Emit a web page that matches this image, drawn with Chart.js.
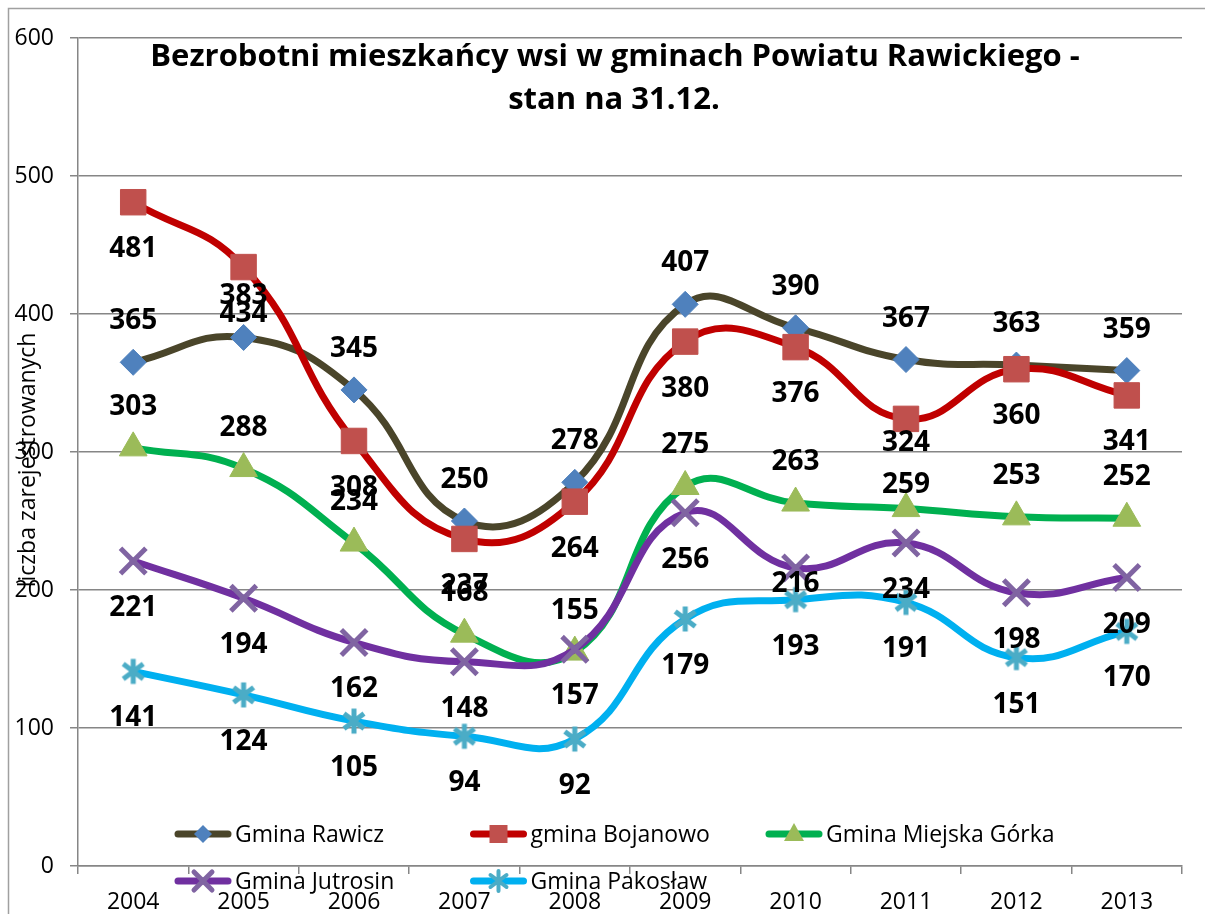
<!DOCTYPE html>
<html>
<head>
<meta charset="utf-8">
<script src="https://cdn.jsdelivr.net/npm/chart.js@4.4.1/dist/chart.umd.min.js"></script>
<style>
html, body { margin: 0; padding: 0; background: #fff; }
#wrap { width: 1205px; height: 914px; position: relative; }
</style>
</head>
<body>
<div id="wrap"><canvas id="chart"></canvas></div>
<script>
// data
const years = ['2004', '2005', '2006', '2007', '2008', '2009', '2010', '2011', '2012', '2013'];
const rawicz = [365, 383, 345, 250, 278, 407, 390, 367, 363, 359];
const bojanowo = [481, 434, 308, 237, 264, 380, 376, 324, 360, 341];
const miejskaGorka = [303, 288, 234, 168, 155, 275, 263, 259, 253, 252];
const jutrosin = [221, 194, 162, 148, 157, 256, 216, 234, 198, 209];
const pakoslaw = [141, 124, 105, 94, 92, 179, 193, 191, 151, 170];
const seriesNames = ['Gmina Rawicz', 'gmina Bojanowo', 'Gmina Miejska Górka', 'Gmina Jutrosin', 'Gmina Pakosław'];
const titleLines = ['Bezrobotni mieszkańcy wsi w gminach Powiatu Rawickiego -', 'stan na 31.12.'];
const yTitle = 'liczba zarejestrowanych';

const FONT = "'Open Sans', 'Noto Sans', sans-serif";
const GRID = '#868686';

// asterisk marker for Pakosław (X plus vertical bar)
function starImage(size, color, lw) {
    const c = document.createElement('canvas');
    c.width = size; c.height = size;
    const g = c.getContext('2d');
    const m = size / 2, r = size / 2 - lw / 2;
    g.strokeStyle = color;
    g.lineWidth = lw;
    g.beginPath();
    g.moveTo(m - r * 0.8, m - r * 0.6); g.lineTo(m + r * 0.8, m + r * 0.6);
    g.moveTo(m + r * 0.8, m - r * 0.6); g.lineTo(m - r * 0.8, m + r * 0.6);
    g.moveTo(m, m - r); g.lineTo(m, m + r);
    g.stroke();
    return c;
}

const styles = [
    { line: '#4a452a', marker: '#4f81bd', point: 'rectRot', radius: 13, bw: 1, label: 'above' },
    { line: '#c00000', marker: '#c0504d', point: 'rect', radius: 18, bw: 1, label: 'below' },
    { line: '#00b050', marker: '#9bbb59', point: 'triangle', radius: 16, bw: 1, label: 'above' },
    { line: '#7030a0', marker: '#8064a2', point: 'crossRot', radius: 18, bw: 5, label: 'below' },
    { line: '#00b0f0', marker: '#4bacc6', point: starImage(30, '#4bacc6', 5), radius: 15, bw: 1, label: 'below' }
];
// labels that were moved by hand in the original (series-index: pixel offset)
const labelNudge = { '1-7': 21, '2-7': -27, '3-6': 13 };
const seriesData = [rawicz, bojanowo, miejskaGorka, jutrosin, pakoslaw];

const datasets = seriesData.map((d, i) => ({
    label: seriesNames[i],
    data: d,
    borderColor: styles[i].line,
    borderWidth: 7,
    borderCapStyle: 'round',
    tension: 0.45,
    fill: false,
    pointStyle: styles[i].point,
    pointRadius: styles[i].radius,
    pointBackgroundColor: styles[i].marker,
    pointBorderColor: styles[i].marker,
    pointBorderWidth: styles[i].bw,
    order: 5 - i
}));

function drawMarker(ctx, kind, x, y, s, color) {
    ctx.save();
    ctx.fillStyle = color;
    ctx.strokeStyle = color;
    ctx.beginPath();
    if (kind === 'rectRot') {
        ctx.moveTo(x, y - s); ctx.lineTo(x + s, y); ctx.lineTo(x, y + s); ctx.lineTo(x - s, y);
        ctx.closePath(); ctx.fill();
    } else if (kind === 'rect') {
        ctx.rect(x - s, y - s, 2 * s, 2 * s); ctx.fill();
    } else if (kind === 'triangle') {
        ctx.moveTo(x, y - s * 1.1); ctx.lineTo(x + s, y + s * 0.7); ctx.lineTo(x - s, y + s * 0.7);
        ctx.closePath(); ctx.fill();
    } else if (kind === 'crossRot') {
        ctx.lineWidth = 5;
        ctx.moveTo(x - s, y - s); ctx.lineTo(x + s, y + s);
        ctx.moveTo(x + s, y - s); ctx.lineTo(x - s, y + s);
        ctx.stroke();
    } else {
        ctx.lineWidth = 4;
        ctx.moveTo(x - s * 0.8, y - s * 0.6); ctx.lineTo(x + s * 0.8, y + s * 0.6);
        ctx.moveTo(x + s * 0.8, y - s * 0.6); ctx.lineTo(x - s * 0.8, y + s * 0.6);
        ctx.moveTo(x, y - s); ctx.lineTo(x, y + s);
        ctx.stroke();
    }
    ctx.restore();
}

const decorations = {
    id: 'decorations',
    beforeDraw(chart) {
        const ctx = chart.ctx;
        ctx.save();
        ctx.fillStyle = '#fff';
        ctx.fillRect(0, 0, chart.width, chart.height);
        ctx.strokeStyle = '#a0a0a0';
        ctx.lineWidth = 1.5;
        ctx.strokeRect(8.5, 8.5, chart.width + 10, chart.height + 10);
        ctx.restore();
    },
    afterDatasetsDraw(chart) {
        const ctx = chart.ctx;
        ctx.save();
        ctx.font = 'bold 28px ' + FONT;
        ctx.fillStyle = '#000';
        ctx.textAlign = 'center';
        ctx.textBaseline = 'middle';
        chart.data.datasets.forEach((ds, i) => {
            const meta = chart.getDatasetMeta(i);
            meta.data.forEach((pt, j) => {
                let dy = styles[i].label === 'above' ? -41 : 47;
                const key = i + '-' + j;
                if (key in labelNudge) dy = labelNudge[key] + 3;
                ctx.fillText(String(ds.data[j]), pt.x, pt.y + dy);
            });
        });
        ctx.restore();
    },
    afterDraw(chart) {
        const ctx = chart.ctx;
        ctx.save();
        // title inside plot area
        ctx.fillStyle = '#000';
        ctx.textAlign = 'center';
        ctx.textBaseline = 'middle';
        ctx.font = 'bold 31px ' + FONT;
        ctx.fillText(titleLines[0], 615, 57);
        ctx.fillText(titleLines[1], 614, 100);
        // y axis title, rotated, overlapping tick labels
        ctx.save();
        ctx.translate(28, 460);
        ctx.rotate(-Math.PI / 2);
        ctx.font = '23px ' + FONT;
        ctx.fillText(yTitle, 0, 0);
        ctx.restore();
        // legend, 3 columns, 2 rows
        ctx.textAlign = 'left';
        ctx.font = '23px ' + FONT;
        chart.data.datasets.forEach((ds, i) => {
            const col = i % 3, row = Math.floor(i / 3);
            const x0 = 178 + col * 295.5;
            const y = 834 + row * 47;
            ctx.strokeStyle = styles[i].line;
            ctx.lineWidth = 7;
            ctx.lineCap = 'round';
            ctx.beginPath();
            ctx.moveTo(x0, y); ctx.lineTo(x0 + 50, y);
            ctx.stroke();
            const kind = typeof styles[i].point === 'string' ? styles[i].point : 'star';
            const s = { rectRot: 9, rect: 9, triangle: 10, crossRot: 9, star: 10 }[kind];
            drawMarker(ctx, kind, x0 + 25, y, s, styles[i].marker);
            ctx.fillStyle = '#000';
            ctx.fillText(ds.label, x0 + 57, y + 1);
        });
        ctx.restore();
    }
};

new Chart(document.getElementById('chart'), {
    type: 'line',
    data: { labels: years, datasets: datasets },
    options: {
        responsive: true,
        maintainAspectRatio: false,
        animation: false,
        layout: { padding: { left: 8, top: 38, right: 8, bottom: 0 } },
        plugins: {
            legend: { display: false },
            title: { display: false },
            tooltip: { enabled: false }
        },
        scales: {
            x: {
                offset: true,
                grid: { offset: true, drawOnChartArea: false, color: GRID, lineWidth: 1.5, tickLength: 8 },
                border: { color: GRID, width: 1.5 },
                ticks: { font: { family: FONT, size: 23 }, color: '#000', padding: 15, maxRotation: 0 },
                afterFit(scale) { scale.height = 48; }
            },
            y: {
                min: 0,
                max: 600,
                ticks: { stepSize: 100, font: { family: FONT, size: 23 }, color: '#000', padding: 16 },
                grid: { color: GRID, lineWidth: 1.5, tickLength: 8 },
                border: { color: GRID, width: 1.5 },
                afterFit(scale) { scale.width = 70; }
            }
        }
    },
    plugins: [decorations]
});
</script>
</body>
</html>
